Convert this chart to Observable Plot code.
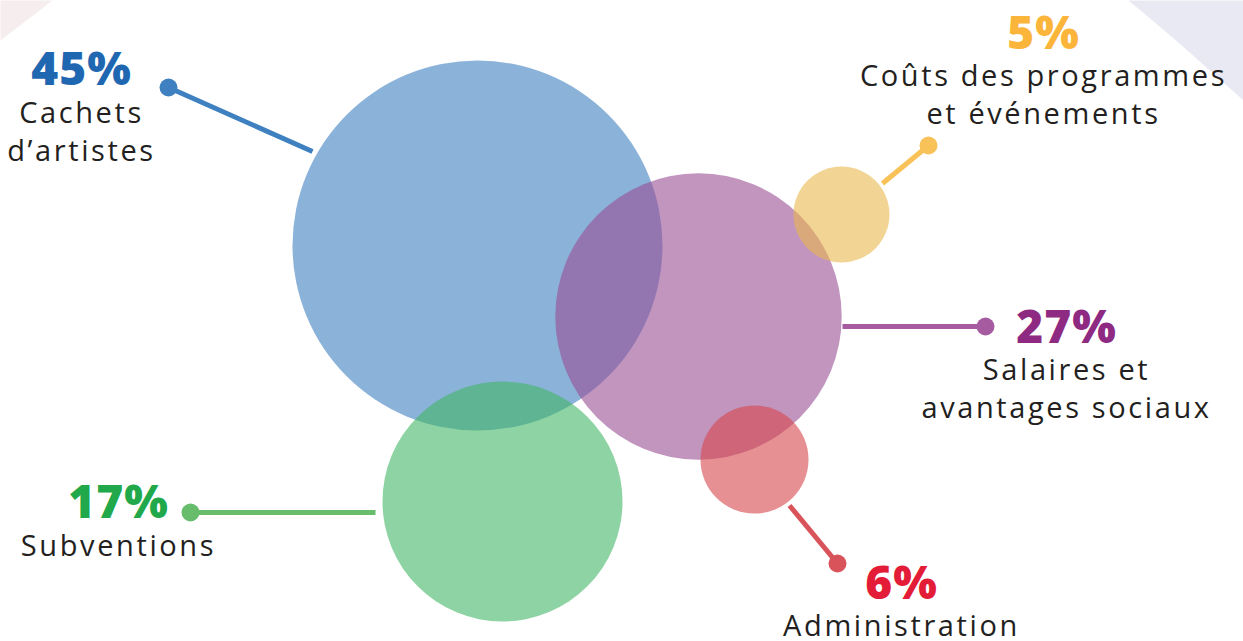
<!DOCTYPE html>
<html>
<head>
<meta charset="utf-8">
<script src="https://cdn.jsdelivr.net/npm/d3@7"></script>
<script src="https://cdn.jsdelivr.net/npm/@observablehq/plot@0.6"></script>
<style>
  html, body { margin: 0; padding: 0; background: #ffffff; }
  #chart svg { display: block; }
</style>
</head>
<body>
<div id="chart"></div>
<script>
// ---- Data ----
const categories = ["Cachets d’artistes", "Salaires et avantages sociaux", "Subventions", "Administration", "Coûts des programmes et événements"];
const values = [45, 27, 17, 6, 5];
const labelLines = ["Cachets\nd’artistes", "Salaires et\navantages sociaux", "Subventions", "Administration", "Coûts des programmes\net événements"];

// ---- Styles ----
const bubbleColors = ["#3d7fbf", "#9a4f94", "#43b666", "#d5464b", "#e9b74e"];
const lineColors   = ["#3e80c0", "#a65ba0", "#67bd6c", "#d9535b", "#f9c258"];
const pctColors    = ["#1f67b1", "#8e2a82", "#21a84a", "#e31c37", "#fbb53b"];

// ---- Layout (pixel design coordinates, not data) ----
const layout = [
  {cx: 477, cy: 245, dot: [168, 87],  end: [312, 151], tx: 81,   pctY: 84,  lblY: 160},
  {cx: 698, cy: 316, dot: [985, 326], end: [842, 326], tx: 1066, pctY: 342, lblY: 417},
  {cx: 502, cy: 501, dot: [190, 512], end: [375, 512], tx: 118,  pctY: 517, lblY: 555},
  {cx: 754, cy: 459, dot: [837, 563], end: [789, 505], tx: 901,  pctY: 598, lblY: 635},
  {cx: 841, cy: 214, dot: [928, 145], end: [882, 183], tx: 1043, pctY: 48,  lblY: 123}
];

const rows = categories.map((c, i) => ({
  category: c, value: values[i], pct: values[i] + "%", label: labelLines[i],
  ...layout[i], bubble: bubbleColors[i], line: lineColors[i], pctColor: pctColors[i]
}));

const W = 1243, H = 641;
const links = rows.map(d => ({x1: d.dot[0], y1: d.dot[1], x2: d.end[0], y2: d.end[1], color: d.line}));

// background corner decorations
const pinkCorner = [[0,0],[52,0],[0,40],[0,0]].map(([x,y]) => ({x, y}));
const lavCorner = [[1128,0],[1158,25],[1187,50],[1216,76],[1243,100],[1243,0],[1128,0]].map(([x,y]) => ({x, y}));

const fontLabel = "'Open Sans', sans-serif";

const chart = Plot.plot({
  width: W, height: H,
  margin: 0,
  x: {domain: [0, W], range: [0, W], axis: null},
  y: {domain: [0, H], range: [0, H], axis: null},
  r: {type: "linear", domain: [5, 17, 45], range: [48, 120, 185]},
  marks: [
    Plot.line(pinkCorner, {x: "x", y: "y", fill: "#f6eeee", stroke: "none"}),
    Plot.line(lavCorner, {x: "x", y: "y", fill: "#e9e9f3", stroke: "none"}),
    Plot.dot(rows, {x: "cx", y: "cy", r: "value", fill: d => d.bubble, fillOpacity: 0.6, stroke: "none"}),
    Plot.link(links, {x1: "x1", y1: "y1", x2: "x2", y2: "y2", stroke: d => d.color, strokeWidth: 5}),
    Plot.dot(rows, {x: d => d.dot[0], y: d => d.dot[1], r: 9, fill: d => d.line, stroke: "none"}),
    Plot.text(rows, {x: "tx", y: "pctY", text: "pct", fill: d => d.pctColor, fontSize: 46, fontWeight: 800,
      fontFamily: fontLabel, lineAnchor: "bottom", textAnchor: "middle"}),
    Plot.text(rows, {x: "tx", y: "lblY", text: "label", fill: "#231f20", fontSize: 29, lineHeight: 1.28,
      fontFamily: fontLabel, lineAnchor: "bottom", textAnchor: "middle"})
  ]
});
const textGroups = chart.querySelectorAll('g[aria-label="text"]');
if (textGroups[0]) textGroups[0].style.letterSpacing = "1px";
if (textGroups[1]) textGroups[1].style.letterSpacing = "2.6px";
document.getElementById("chart").appendChild(chart);
</script>
</body>
</html>
